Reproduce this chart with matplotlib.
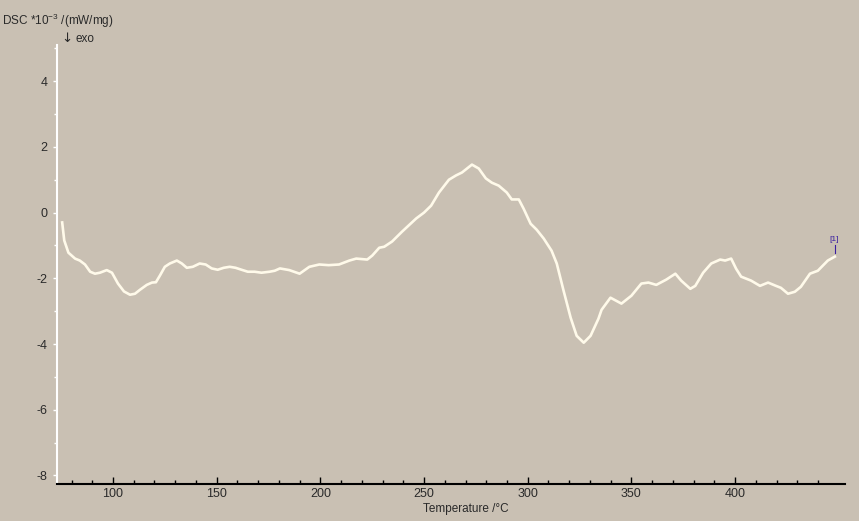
import matplotlib.pyplot as plt
from matplotlib.ticker import MultipleLocator, FixedLocator

plt.rcParams['font.family'] = ['Liberation Sans', 'DejaVu Sans']
plt.rcParams['mathtext.fontset'] = 'custom'
plt.rcParams['mathtext.rm'] = 'Liberation Sans'
plt.rcParams['mathtext.it'] = 'Liberation Sans'
plt.rcParams['axes.unicode_minus'] = False

# DSC curve (temperature in °C, DSC in 10^-3 mW/mg)
temp = [75.5, 76.5, 78.5, 81.7, 84, 86.5, 89, 91.3, 93.7, 97, 99.5, 102.4, 105.3,
        108.2, 110.6, 113, 116.3, 118.8, 120.7, 122.6, 125, 127.4, 130.8, 133.2,
        135.6, 138.5, 141.8, 144.7, 147.6, 150.5, 153.4, 156.3, 159.1, 162, 165,
        168.3, 171.6, 175.5, 178, 180.5, 185, 190, 194.7, 199.5, 204, 209, 214,
        217.3, 222.6, 225, 228.4, 230.8, 234.6, 239.4, 246.2, 250, 253.4, 257.2,
        262, 265.4, 268.3, 273.1, 276.4, 279.8, 282.7, 286, 289.9, 292.3, 295.7,
        298, 301.4, 304.3, 307.7, 311.5, 314, 317.3, 320.7, 323.6, 327, 330.3,
        334.1, 335.6, 339.9, 345.2, 350, 354.8, 358.2, 362, 366.8, 371.2, 374,
        378.4, 380.8, 384.6, 388.5, 392.8, 395.2, 398.1, 400.5, 402.9, 407.7, 412,
        415.9, 419.7, 422.1, 425.5, 428.8, 431.7, 436.1, 439.9, 444.7, 448.1]
dsc = [-0.3, -0.85, -1.22, -1.4, -1.46, -1.58, -1.8, -1.86, -1.83, -1.75, -1.83,
       -2.16, -2.4, -2.5, -2.47, -2.35, -2.2, -2.13, -2.12, -1.92, -1.65, -1.55,
       -1.46, -1.55, -1.68, -1.65, -1.55, -1.58, -1.7, -1.74, -1.68, -1.65, -1.68,
       -1.74, -1.8, -1.8, -1.83, -1.8, -1.77, -1.7, -1.75, -1.86, -1.65, -1.58,
       -1.6, -1.58, -1.46, -1.4, -1.43, -1.31, -1.07, -1.04, -0.88, -0.58, -0.18,
       0.0, 0.21, 0.61, 1.0, 1.13, 1.22, 1.46, 1.34, 1.04, 0.91, 0.82, 0.61, 0.4,
       0.4, 0.12, -0.34, -0.52, -0.79, -1.16, -1.55, -2.38, -3.2, -3.75, -3.96,
       -3.75, -3.23, -2.96, -2.59, -2.77, -2.53, -2.16, -2.13, -2.2, -2.04, -1.86,
       -2.07, -2.32, -2.23, -1.83, -1.55, -1.43, -1.46, -1.4, -1.71, -1.95, -2.07,
       -2.23, -2.13, -2.23, -2.29, -2.47, -2.41, -2.26, -1.86, -1.77, -1.46, -1.34]

x_major = [100, 150, 200, 250, 300, 350, 400]
x_minor = list(range(80, 450, 10))

bg = '#c9c0b3'
txt = '#2a2a2a'
fig = plt.figure(figsize=(8.59, 5.21), dpi=100, facecolor=bg)
ax = fig.add_axes([57 / 859, 37 / 521, 788 / 859, 439 / 521], facecolor=bg)

ax.plot(temp, dsc, color='#fffaea', lw=1.9)

ax.set_xlim(73, 453)
ax.set_ylim(-8.26, 5.1)
ax.xaxis.set_major_locator(FixedLocator(x_major))
ax.xaxis.set_minor_locator(FixedLocator(x_minor))
ax.yaxis.set_major_locator(MultipleLocator(2))
ax.yaxis.set_minor_locator(MultipleLocator(1))

for s in ['top', 'right']:
    ax.spines[s].set_visible(False)
ax.spines['left'].set_color('white')
ax.spines['left'].set_linewidth(1.5)
ax.spines['bottom'].set_color('black')
ax.spines['bottom'].set_linewidth(1.5)

ax.tick_params(axis='x', which='major', direction='in', length=5, width=1,
               color='black', labelsize=9, labelcolor=txt, pad=3)
ax.tick_params(axis='x', which='minor', direction='in', length=3, width=1, color='black')
ax.tick_params(axis='y', which='major', direction='out', length=3, width=1,
               color='white', labelsize=9, labelcolor=txt, pad=4)
ax.tick_params(axis='y', which='minor', direction='out', length=2, width=1, color='white')

fig.text(2 / 859, 1 - 25 / 521, 'DSC *10$^{-3}$ /(mW/mg)', fontsize=8.5, color=txt)
fig.text(61 / 859, 1 - 42 / 521, '\u2193', fontsize=9.5, color=txt, family=['DejaVu Sans'])
fig.text(76 / 859, 1 - 42 / 521, 'exo', fontsize=8.5, color=txt)
fig.text(466 / 859, 1 - 512 / 521, 'Temperature /\u00b0C', fontsize=8.5,
         color=txt, ha='center')

# end marker
ax.plot([temp[-1], temp[-1]], [dsc[-1] + 0.12, dsc[-1] + 0.35], color='#3a1fa0', lw=0.8)
ax.text(temp[-1] - 0.5, dsc[-1] + 0.4, '[1]', color='#3a1fa0', fontsize=6,
        ha='center', va='bottom')

fig.savefig('out.png', dpi=100, facecolor=bg)
